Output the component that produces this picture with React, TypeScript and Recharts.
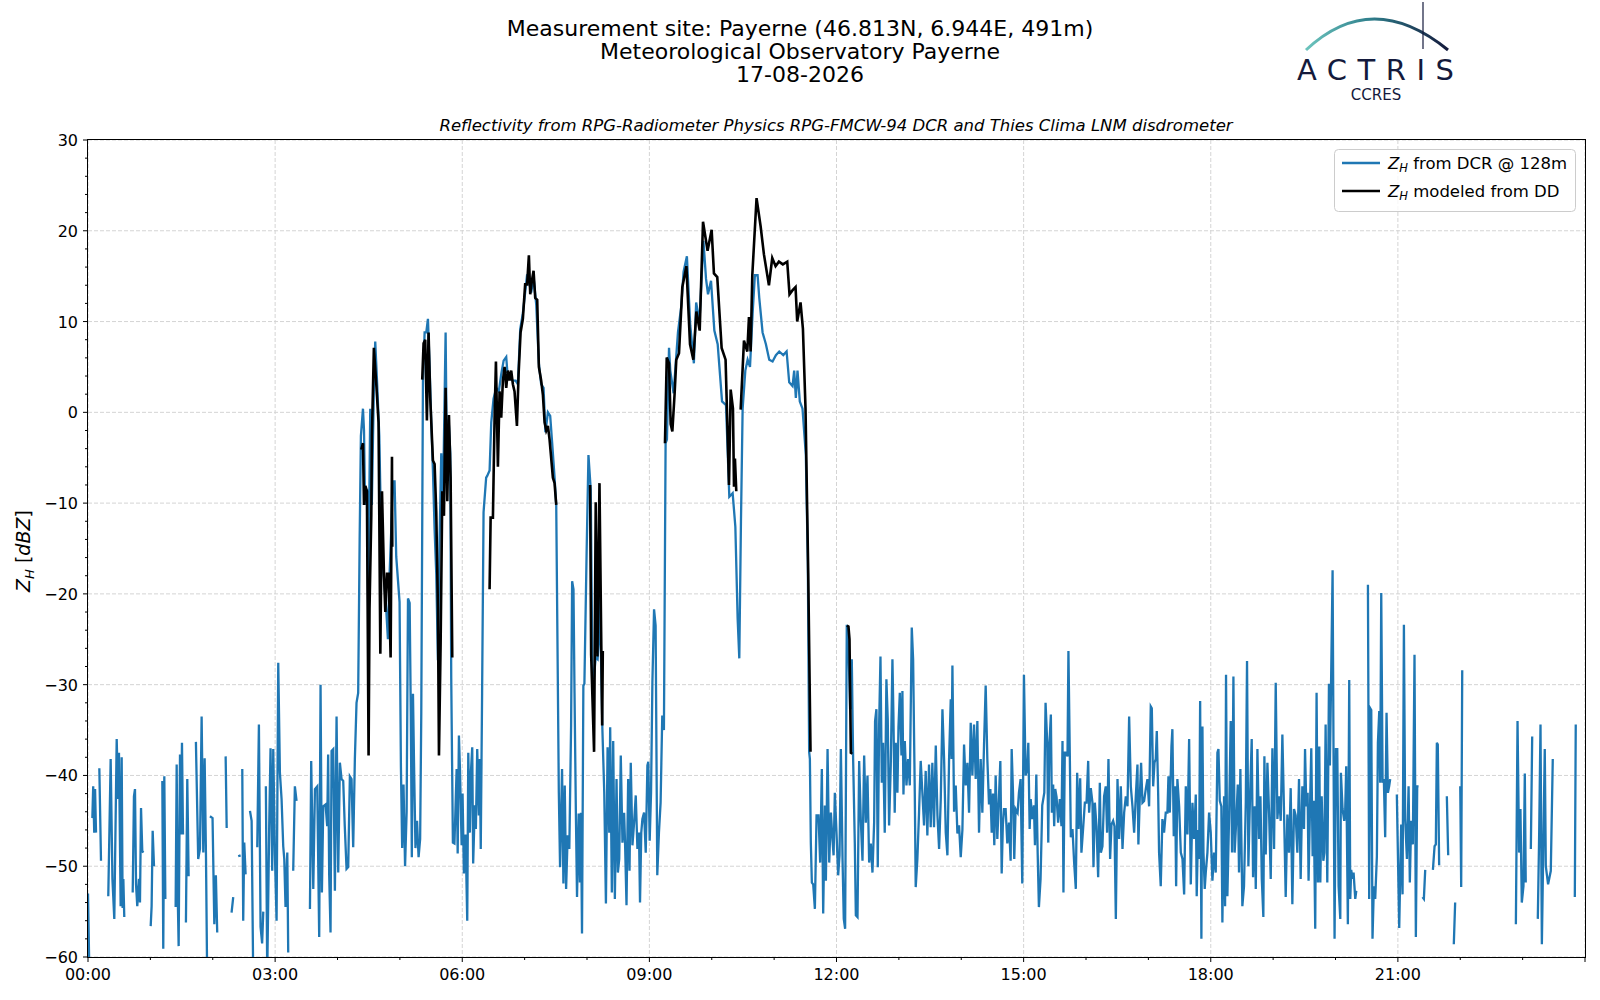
import React from 'react';
import { LineChart, Line, XAxis, YAxis, CartesianGrid } from 'recharts';

type Pt = [number, number | null];

// minutes after midnight, Z_H in dBZ (null = no data)
const dcrNight: Pt[] = [
  [0, -53], [1.5, -63], [3, null], [4.2, -44.7], [5, -41.2], [6, -46.3], [6.8, -41.5], [7.7, -46.3], [9, null],
  [10.9, -39.2], [12.5, -49.4], [14, null], [19.5, -53.3], [21.8, -38.2], [23.5, -51.4], [25.3, -55.8], [27.6, -36],
  [29, -42.6], [29.8, -37.5], [31.4, -54.4], [32.4, -38], [33.3, -54.6], [34, -51.4], [34.9, -55.6], [36, null],
  [43, -52.9], [44.2, -42.3], [45.2, -41.5], [46.2, -52], [47.4, -54.4], [49, -51.4], [50, -54], [51, -43.6],
  [52.2, -48.3], [53.2, -48.5], [55, null], [60.3, -56.6], [61.2, -54.4], [62.2, -46.1], [63.5, -50], [65, null],
  [71.5, -40.6], [72.4, -59.1], [73.4, -40.1], [74.4, -53.6], [75.5, null], [84.3, -54.5], [85.3, -38.8],
  [86.2, -52.5], [87.2, -58.8], [88.5, -37.7], [89.4, -46.5], [90.4, -36.4], [91.4, -46.5], [92.5, null],
  [94.2, -56.2], [95.5, -40.4], [96.8, -51.1], [98, null], [103.8, -36.3], [106, -49.2], [107.7, -48.1],
  [109.3, -33.5], [110.9, -48.5], [112.2, -38.1], [113.5, -49], [114.7, -63], [116, null], [117.3, -44.5],
  [119.8, -44.7], [121.5, -56.4], [123, -51], [124.3, -57.3], [125.5, null], [132.4, -37.9], [133.4, -45.8],
  [134.5, null], [138.1, -55.1], [139.7, -53.4], [141, null], [144.5, -48.9], [146.8, -48.8], [147.5, null],
  [148.4, -39.3], [149.3, -56], [150.3, -47.4], [151.6, -50.9], [153, null], [155.8, -43.9], [157.4, -45],
  [159, -63], [160.5, null], [162.8, -47.9], [164.4, -34.4], [166, -56.7], [167.5, -58.5], [168.6, -55],
  [169.5, null], [171.1, -41.2], [172.4, -62], [174.3, -45.6], [175.6, -37], [177.2, -50.5], [178.2, -37.1],
  [179.8, -48.7], [181.4, -56], [183, -27.6], [184.6, -39.7], [186.2, -42.6], [187.8, -47.8], [188.8, -49.2],
  [190, -54.5], [191.7, -48.5], [192.6, -59.5], [194, null], [197.4, -50.5], [199, -41.2], [200.6, -42.8],
  [202, null], [213.5, -54.7], [214.7, -38.4], [216.7, -52.5], [218.3, -41.5], [220.5, -41.2], [222.4, -57.8],
  [223.7, -30], [225, -52.9], [226.3, -43.4], [228.5, -43.2], [230.1, -45.6], [231, -37.7], [232, -50.9],
  [233.3, -57.3], [234.3, -37.3], [235.9, -37.1], [237.5, -52.7], [239.1, -33.5], [240.7, -50.7], [242.3, -38.6],
  [243.9, -40.4], [245.5, -40.6], [247, -45.6], [248.7, -50.3], [250.3, -50.1], [251.9, -40.1], [253.5, -40.4],
  [255.1, -47.9], [256.7, -38.2], [258.3, -32], [259.9, -30.9],
];

const dcrMorning: Pt[] = [
  [261.3, -14], [262.5, -2.6], [264.5, 0.4], [265.5, -2], [266.5, -10.2], [268.5, -8.5], [269.5, -21.6],
  [271.5, 0.4], [273, -10.2], [275, 2.7], [276.3, 7.8], [278.2, 3], [280.2, -2.6], [282.1, -14], [284.4, -17.8],
  [286.8, -21.6], [288.5, -25], [290.1, -17.8], [291.7, -13], [293.3, -7.6], [294.9, -7.6], [296.5, -15.9],
  [299.7, -20.9], [301, -39], [302.2, -48], [303.5, -41], [305, -50], [306.5, -44], [307.8, -20.5], [309.4, -21],
  [310.5, -33], [311.5, -49], [312.6, -31], [313.8, -40], [315, -48], [316.5, -45], [318, -49], [319.5, -47],
  [320.6, -33], [322.2, 3.5], [323.8, 8.8], [325.4, 8.8], [327, 10.3], [328.6, 5], [330.2, -1.1], [331.8, -6.4],
  [333.4, -12.9], [335, -17.8], [336.6, -27.3], [338.2, -14], [339.8, -4.5], [341.4, -10.2], [344, 8.8],
  [345.3, -6.4], [346.9, -0.8], [348.5, -4.5], [349.4, -29.2], [351, -47.4], [352.5, -47.5], [354.6, -39.3],
  [355.6, -48.6], [356.8, -35.6], [357.8, -39.3], [359.4, -47.7], [360.3, -42], [361.6, -50.8], [363.2, -46.5],
  [364.8, -56], [365.8, -37.5], [367.3, -46.3], [368.3, -39.7], [369.6, -36.9], [370.5, -49.7], [372.1, -43.3],
  [373.1, -45.9], [374.4, -37.1], [376, -44.4], [376.9, -38.2], [377.8, -48.1], [379.1, -30.9], [380.5, -11],
  [383, -7.2], [384, -7], [386.3, -6.4], [387.9, -1.1], [390.1, 1.5], [392.7, 2.7], [395.2, 2.3], [397.5, 4.2],
  [399.8, 5.7], [402.3, 6.1], [403.9, 3.7], [406.1, 3.7], [408.7, 3.5], [411.3, 3.5], [413.5, 3.1], [415.8, 9.2],
  [418.3, 10.9], [420.5, 13.2], [422.4, 15.2], [424.1, 14.5], [426.3, 13.2], [428.6, 14.9], [431.2, 11.8],
  [433.7, 5.4], [435.9, 3.1], [438.2, 2.7], [440, -2.2], [442.4, 0], [444.6, -0.4], [446.5, -3.4], [448.8, -7.2],
  [450.4, -10.2], [451.9, -29.2], [452.9, -41.9], [454.1, -50.1], [456, -39.3], [457.3, -51.9], [458.6, -41.1],
  [459.9, -52.5], [461.4, -46.6], [463, -48.1], [464.7, -34.5], [465.7, -18.6], [467, -19.5], [468, -30.9],
  [469.3, -44.1], [470.4, -53.4], [472, -44.2], [473.2, -51.8], [474.2, -44.1], [475.2, -57.4], [476.5, -30.1],
  [477.5, -29.9], [479.7, -15], [481.4, -4.7], [483.6, -8.5], [485.2, -29], [486.5, -29.4], [488.4, -27],
  [490.2, -27.2], [491.3, -25], [492.3, -20.2], [493.5, -27], [494.8, -34.9], [496.6, -41.9], [498.2, -54.1],
  [499.8, -36.9], [501.4, -46.3], [502.3, -34.7], [503.9, -52.9], [505.2, -36.2], [506.8, -53.6], [508.4, -40.4],
  [509.7, -50.7], [511, -49.2], [512.5, -37.8], [514.1, -47.4], [515.7, -44.1], [516.6, -47.4], [518, -54.3],
  [519.6, -40.4], [520.9, -50.5], [522.1, -38.6], [523.7, -47.7], [525.3, -45.2], [526.9, -42.2], [528.5, -48.1],
  [530, -46.3], [531, -54], [532.2, -46.3], [533.3, -44.8], [534.9, -44.1], [536.5, -48.5], [538.1, -38.9],
  [539, -38.5], [540.3, -47.2], [541.6, -41.9], [542.9, -29.8], [544.5, -21.7], [546, -23.5], [547.6, -51],
  [549.2, -46.3], [550.8, -43], [552.4, -33.4], [554, -35],
];

const dcrMidday: Pt[] = [
  [555.6, -3.4], [556.9, -3], [558.9, 7.1], [560.1, 4.6], [563.3, 2.1], [567.5, 8.8], [570.7, 11.7], [572.9, 15.5],
  [576.1, 17.2], [579.3, 9.6], [582.8, 5.4], [585, 12.1], [588.2, 10], [592, 18.9], [594.5, 14.7], [596.4, 13],
  [599.3, 14.5], [602.5, 9], [605.7, 7.5], [609.9, 1.2], [613.7, 0.8], [616.9, -9.3], [620.1, -8.9], [622.7, -12.6],
  [624.9, -22.7], [626.5, -27.1], [628.1, -12], [629.7, 0.4], [632.3, 4.6], [634.5, 5.8], [636.8, 5], [639.3, 10.9],
  [641.5, 15.1], [644.1, 15.1], [645.7, 12.6], [648.9, 8.8], [652.1, 7.5], [655.3, 5.8], [658.5, 5.6], [661.7, 6.3],
  [664.9, 6.7], [668.8, 6.3], [672, 6.7], [674.5, 3.3], [677.7, 2.9], [679.3, 4.6], [680.9, 1.6], [682.5, 4.6],
  [684.7, 1.2], [687.3, 0.4], [690.5, -4.7], [692.4, -16.4], [693.7, -37.4], [694.4, -38.2], [695.3, -47.4],
  [696.3, -51.8], [697.6, -52], [699.2, -54.7], [700.8, -44.4], [702.7, -44.4], [704.3, -49.6], [705.9, -39.3],
  [707.2, -55.2], [708.8, -43.3], [709.8, -51.6], [711.4, -37.1], [713, -49.6], [714.6, -44.1], [716.2, -47.2],
  [717.2, -48.8], [718.4, -41.9], [720, -46.3], [721.6, -51], [722.9, -48.8], [724.2, -37.1], [725.8, -49.2],
  [727, -55.8], [728.3, -56.9],
];

const dcrAfternoon: Pt[] = [
  [729.9, -23.4], [731.5, -25.8], [733.1, -32.7], [734.7, -27.2], [736, -38.2], [737.6, -47.4], [738.6, -55.4],
  [740.2, -55.6], [741.8, -38.4], [743.4, -45], [745, -49.4], [746.6, -37.8], [748.2, -45.2], [749.8, -40],
  [751.4, -49.6], [753, -47.5], [754.6, -50.7], [756.2, -45.2], [757.1, -34], [758.4, -32.7], [759.7, -50.1],
  [761, -34.5], [762.3, -26.9], [763.6, -40.8], [764.8, -36.4], [766.4, -46.3], [768, -29.4], [769.3, -33.8],
  [770.6, -45.5], [772.2, -38.9], [773.8, -27.2], [774.7, -33], [776, -44.1], [777, -36.4], [778.6, -41.9],
  [779.6, -34.7], [780.9, -30.9], [782.5, -37.8], [783.4, -30.7], [784.4, -42.1], [785.7, -36.2], [787.3, -41.1],
  [788.9, -38.2], [790.5, -41.1], [792.4, -23.7], [793.7, -27.2], [795.3, -41.9], [796.2, -52.3], [797.8, -49.2],
  [799.4, -44.1], [801, -38.4], [802.6, -41.9], [804.2, -45.5], [805.8, -39.5], [807.4, -46.6], [809, -38.8],
  [810.6, -45.7], [812.2, -38.6], [813.8, -45.7], [815.5, -36.7], [817.1, -44.4], [818.7, -48.1], [820.3, -42.6],
  [821.9, -32.7], [823.5, -38.2], [825.1, -46.3], [826.7, -48.8], [828.3, -38.2], [829.9, -31.6], [830.7, -38.2],
  [831.5, -27.9], [833.1, -44], [834.7, -41.1], [836.3, -46.4], [837.9, -45.5], [839.5, -49], [841.1, -46],
  [842.7, -36.6], [844.3, -41.1], [845.9, -38.6], [847.5, -44.1], [849.1, -34.2], [850.7, -40], [852.3, -34.4],
  [853.9, -40.4], [855.5, -34], [857.1, -46.3], [858.7, -38.2], [860.3, -44.1], [861.9, -36.7], [863.5, -30.1],
  [865.1, -38.2], [866.7, -43.2], [868, -41.5], [869.3, -46.3], [870.5, -42], [871.8, -47.7], [873.1, -40],
  [874.7, -47], [876.3, -42.3], [877.6, -38.4], [878.9, -50.8], [880, -45.5], [881.1, -43.7], [882.7, -43.7],
  [884.3, -47.5], [885.9, -45.2], [887.5, -49.4], [888.5, -37.1], [889.8, -41.9], [891, -49.2], [892.3, -43.7],
  [894.2, -44.1], [895.5, -41.9], [897.1, -40.4], [898.7, -51.9], [900.3, -28.9], [901.9, -40], [903.5, -39.3],
  [904.5, -36.4], [905.8, -45.9], [906.8, -42.6], [908.3, -44.8], [909.9, -43.3], [910.9, -47.7], [912.2, -39.9],
  [913.5, -48.5], [914.7, -54.5], [916.3, -51.4], [917.9, -43.3], [919.9, -41.9], [921.1, -32], [922.7, -36.4],
  [923.7, -47.4], [924.6, -37.1], [926.2, -33.3], [927.2, -44.1], [928.4, -41], [929.4, -45.6], [930.4, -41.5],
  [931.7, -42.4], [933.2, -45.2], [934.8, -42.6], [936.4, -45.6], [937.4, -36.2], [938.3, -52.9], [939.6, -37.5],
  [941.2, -37.5], [942.2, -37.9], [943.1, -26.3], [944.4, -37.5], [945.4, -46.8], [947, -45.9], [948.6, -49.6],
  [950.2, -52.5], [951.5, -39.7], [952.8, -45.9], [954.4, -40.3], [955.6, -48.5], [957.2, -45.9], [958.9, -43],
  [960.5, -43], [962.1, -38.4], [963, -44.1], [964.6, -41.4], [966.2, -43], [967.2, -50.1], [968.5, -43],
  [970.1, -45.6], [971.7, -51.2], [973.3, -40.8], [974.3, -48.5], [975.8, -47.8], [977.4, -42.3], [979, -41.2],
  [980.3, -46.3], [981.6, -38.2], [983.2, -49.2], [984.5, -45.4], [986.1, -45], [987.4, -45.6], [988.7, -55.8],
  [990.3, -40.4], [991.9, -47], [993.5, -41.2], [995.1, -48.1], [996.7, -44.1], [998.3, -42.3], [999.9, -43.4],
  [1001.5, -33.5], [1003.1, -41.2], [1004.7, -43.4], [1006.3, -46.3], [1007.9, -42.3], [1009.5, -38.8],
  [1010.4, -47.6], [1011.7, -42.6], [1013, -38.6], [1014.3, -43], [1015.9, -42.8], [1017.5, -41.5], [1019.1, -40.4],
  [1020.7, -43.4], [1022.3, -32.4], [1023.3, -32.6], [1024.6, -41.2], [1025.9, -38.6], [1027.1, -38.2],
  [1028.1, -35.1], [1029.4, -41.9], [1030.3, -48.5], [1031.9, -52.2], [1033.5, -44.8], [1035.1, -46.3],
  [1036.7, -44.1], [1038.3, -44.1], [1039.3, -40.1], [1040.6, -44.1], [1042.2, -36.8], [1043.1, -34.9],
  [1044.4, -46.7], [1045.7, -41.2], [1046.7, -52.2], [1047.9, -40.4], [1049.6, -43.4], [1051.2, -48.5],
  [1052.8, -49.2], [1054.4, -53.1], [1056, -41.2], [1057.6, -46.5], [1059.2, -36], [1060.8, -52], [1062.4, -43],
  [1064, -47], [1065.6, -42.1], [1066.5, -53.3], [1067.8, -46], [1068.8, -49.2], [1069.8, -31.8], [1071, -58],
  [1072, -34.6], [1073, -48.5], [1074.2, -52.5], [1075.2, -50.7], [1076.8, -48.5], [1078.4, -44.1],
];

const dcrEvening: Pt[] = [
  [1080, -46.3], [1081.6, -51.6], [1083.2, -48.5], [1084.8, -50.7], [1086.4, -37.5], [1087.4, -37.1],
  [1088.7, -42.8], [1090.2, -43.4], [1091.2, -56.2], [1092.8, -42.3], [1093.8, -54.4], [1094.7, -28.9],
  [1096, -53.3], [1097.6, -44.8], [1099.2, -34], [1100.5, -48.5], [1101.8, -29.1], [1103, -48.5], [1104.6, -44.8],
  [1106, -41], [1107.2, -50.7], [1108.5, -39.3], [1109.8, -49.6], [1110.4, -54.4], [1112, -52.2], [1113.7, -43],
  [1114.9, -27.4], [1116.2, -50], [1117.8, -42.3], [1119.4, -36], [1120.7, -51.2], [1122.3, -43.4], [1123.3, -52.5],
  [1124.9, -37.1], [1126.5, -47], [1127.8, -42.3], [1129.1, -51.4], [1130.6, -55.6], [1131.6, -37.9],
  [1132.9, -48.7], [1134.5, -38.6], [1136.1, -44.1], [1137.7, -51.4], [1139.3, -37], [1140.9, -48.1],
  [1142.5, -29.8], [1144.1, -44.8], [1145.7, -42.3], [1147.3, -45], [1148.9, -35.5], [1150.5, -44.1],
  [1152.1, -53.4], [1153.7, -44.3], [1155.3, -48.5], [1156.9, -41.4], [1158.5, -54.2], [1160.1, -43.7],
  [1161.7, -44.4], [1163.3, -48.5], [1164.9, -40.4], [1166.5, -51.4], [1168.1, -41.2], [1169.7, -45.9],
  [1170.7, -37.1], [1171.9, -43.4], [1173.2, -41.9], [1174.1, -51.6], [1175.7, -42.3], [1176.7, -37], [1178, -48.9],
  [1179, -42.8], [1180.5, -56.9], [1181.8, -30.9], [1183.1, -51.8], [1184.4, -36.8], [1185.4, -51.8],
  [1186.7, -42.3], [1188.3, -49.4], [1189.3, -48.5], [1190.5, -34.4], [1192.1, -51.8], [1193.7, -29.9],
  [1194.6, -38.9], [1195.6, -31], [1197.2, -17.4], [1198.1, -37.5], [1199.1, -58], [1200.4, -37.1], [1201.7, -37.1],
  [1203, -52.2], [1204.6, -55.8], [1205.2, -39.7], [1206.8, -43.7], [1208.4, -45], [1209.3, -44], [1210.3, -39],
  [1211.9, -56.4], [1213.2, -29.5], [1214.2, -53.6], [1215.1, -50.4], [1216.4, -51.4], [1217.4, -50.7],
  [1219, -53.6], [1220, -52.7], [1221, null],
  [1231.2, -19], [1232.4, -53.6], [1233.4, -32.6], [1234.4, -32.8], [1235.6, -58], [1236.9, -52.2],
  [1238.2, -53.6], [1239.8, -48.9], [1240.8, -36.4], [1242.1, -32.9], [1243, -40.8], [1244, -19.9],
  [1245.3, -40.8], [1246.5, -40.4], [1247.8, -46.8], [1249.1, -33.1], [1250.4, -41.9], [1251.6, -41.2],
  [1252.6, -40.4], [1253.5, null],
  [1259, -42.1], [1261.3, -56.8], [1263.2, -45.4], [1264.5, -53.1], [1265.8, -23.4], [1267, -44.8],
  [1268.7, -49.2], [1270.3, -41.2], [1271.5, -51.8], [1272.8, -45], [1274.4, -47.6], [1276, -26.7],
  [1277.3, -57.8], [1278.6, -41.2], [1279.9, -41.2], [1281, null],
  [1283.7, -53.4], [1285, -53.6], [1286.3, -50.4], [1287.5, null],
  [1293.7, -50.4], [1295.3, -47.8], [1296.5, -47.6], [1297.5, -36.4], [1298.4, -36.6], [1299.7, -49.9], [1301, null],
  [1307.1, -42.3], [1308.4, -48.8], [1309.5, null], [1313.8, -58.6], [1315.1, -54], [1316.5, null],
  [1320, -41.2], [1320.9, -52.3], [1321.9, -28.4], [1323, null],
  [1373.5, -56.4], [1375.1, -34], [1376.6, -48.5], [1377.9, -43.7], [1379.2, -54], [1380.8, -52.2],
  [1382.1, -39.8], [1383, -51.8], [1384.5, null], [1387.9, -48.1], [1389.2, -35.7], [1390.5, null],
  [1394.6, -55.8], [1395.9, -46.5], [1397.2, -34.4], [1398.5, -58.6], [1400, -47], [1401.3, -37.1],
  [1402.3, -50], [1404.5, -52], [1407.1, -50.5], [1409, -38.2], [1410, null],
  [1430.2, -53.4], [1431.1, -34.4],
];

// Z_H modelled from disdrometer, one array per rain spell
const ddSpell1: Pt[] = [
  [262.9, -4.1], [264.5, -3.4], [265.5, -10.2], [266.8, -8.1], [268.3, -8.7], [269.9, -37.8], [270.8, -21.6],
  [272.5, -11.4], [273.1, -2.6], [275, 7.1], [277.3, 3.1], [279.5, -1.1], [281.2, -26.6], [282.8, -8.7],
  [284.7, -17.8], [286, -22], [287.6, -17.8], [289.2, -17.8], [291.1, -27], [292.4, -4.9], [292.7, -14.8],
];
const ddSpell2: Pt[] = [
  [321.5, 3.6], [322.8, 7.6], [324.4, 8], [326, -0.9], [327.6, 8.8], [329.2, 1.6], [331.8, -5.3], [333.4, -5.7],
  [335, -11], [336.6, -21.6], [337.6, -37.8], [339.2, -25.4], [340.8, -8.7], [342.4, -11.4], [344, 2.7],
  [345.6, -9.8], [347.2, -0.3], [348.8, -7.2], [350.4, -27],
];
const ddSpell3: Pt[] = [
  [386.3, -19.5], [387.3, -11.6], [389.5, -11.6], [391.1, -0.6], [392.4, 5.6], [394.3, -6], [395.9, 2.3],
  [397.5, -0.6], [399.1, 3.5], [400.7, 5], [402.3, 2.7], [403.9, 4.6], [405.5, 3.5], [407.1, 4.6], [408.7, 3.1],
  [410.3, 2.3], [412.6, -1.5], [414.2, 4.2], [416.1, 8.8], [418.3, 10.3], [420.5, 14.1], [422.4, 14.1],
  [424.1, 17.3], [425.4, 13], [427, 14.5], [428.6, 15.6], [430.2, 12.6], [432.1, 12.4], [433.7, 5], [435.9, 3.5],
  [437.6, 1.9], [439.2, -1.1], [440.8, -2], [442.4, -1.5], [444, -3], [447.2, -7.2], [448.8, -7.8], [450.4, -10.2],
];
const ddSpell4: Pt[] = [
  [483, -8], [484, -26.7], [486.8, -37.4], [488.4, -9.9], [490, -26.9], [492, -7.8], [494.6, -34.5], [495.2, -26.3],
];
const ddSpell5: Pt[] = [
  [555, -3.4], [556.7, 6.05], [558.9, 5.4], [560.5, -1.3], [562.1, -2.1], [564.3, 2.1], [565.9, 5.8], [568.5, 6.5],
  [571.7, 13.8], [575.6, 16.1], [579.1, 7.5], [582.3, 5.8], [585.2, 11.1], [588.4, 9], [591.6, 21], [596, 17.8],
  [599.9, 20.1], [602.1, 15.3], [605.3, 14.9], [609.5, 7.1], [613.3, 5.8], [616.6, -8], [618.2, 2.5], [620.4, 0.4],
  [621.4, -8.2], [622.3, -5.1], [623.6, -8.7], [625, null], [627.8, 0.3], [631, 7.9], [634.2, 6.7], [635.8, 10.5],
  [637.4, 6.7], [639, 15.1], [643.1, 23.6], [647, 20.5], [650.2, 17.4], [655, 14], [658.2, 17], [661.4, 16.1],
  [664.6, 16.6], [668.4, 16.3], [672.6, 16.6], [674.8, 13], [677.4, 13.4], [680.6, 13.8], [682.2, 10],
  [685.4, 12.1], [687.7, 9.2], [690.2, 0.4], [692.8, -17.7], [695, -37.4],
];
const ddSpell6: Pt[] = [
  [730, -23.5], [731.5, -23.6], [732.5, -25], [733.8, -37.5], [735.3, -37.6],
];

const yMajorTicks = [-60, -50, -40, -30, -20, -10, 0, 10, 20, 30];
const xMajorTicks = [0, 180, 360, 540, 720, 900, 1080, 1260, 1440];
const xTickLabels = ['00:00', '03:00', '06:00', '09:00', '12:00', '15:00', '18:00', '21:00', ''];
const yMinorTicks: number[] = [];
for (let v = -60; v <= 30; v += 2) yMinorTicks.push(v);
const xMinorTicks: number[] = [];
for (let m = 0; m <= 1440; m += 60) xMinorTicks.push(m);

const toRows = (pts: Pt[]) => pts.map(([t, v]) => ({ t, v }));
const dcrData = toRows([...dcrNight, ...dcrMorning, ...dcrMidday, ...dcrAfternoon, ...dcrEvening]);
const ddSpells = [ddSpell1, ddSpell2, ddSpell3, ddSpell4, ddSpell5, ddSpell6];
const ddData = toRows(
  ddSpells.flatMap((s, i) => (i < ddSpells.length - 1 ? [...s, [s[s.length - 1][0] + 0.5, null] as Pt] : s))
);

const FONT = 'DejaVu Sans';
const PLOT_LEFT = 88;
const PLOT_TOP = 140;
const PLOT_RIGHT = 1585;
const PLOT_BOTTOM = 957;
const Y_AXIS_W = 60;
const X_AXIS_H = 40;

const fmtY = (v: number) => (v < 0 ? `\u2212${Math.abs(v)}` : `${v}`);

const YTick = (props: any) => {
  const { y, payload } = props;
  const major = yMajorTicks.includes(payload.value);
  return (
    <g>
      <line x1={PLOT_LEFT} x2={PLOT_LEFT - (major ? 5 : 3)} y1={y} y2={y} stroke="#000" strokeWidth={1} />
      {major && (
        <text x={PLOT_LEFT - 10} y={y + 6} textAnchor="end" fontSize={16} fontFamily={FONT} fill="#000">
          {fmtY(payload.value)}
        </text>
      )}
    </g>
  );
};

const XTick = (props: any) => {
  const { x, payload } = props;
  const idx = xMajorTicks.indexOf(payload.value);
  const major = idx >= 0;
  return (
    <g>
      <line x1={x} x2={x} y1={PLOT_BOTTOM} y2={PLOT_BOTTOM + (major ? 5 : 3)} stroke="#000" strokeWidth={1} />
      {major && xTickLabels[idx] && (
        <text x={x} y={PLOT_BOTTOM + 23} textAnchor="middle" fontSize={16} fontFamily={FONT} fill="#000">
          {xTickLabels[idx]}
        </text>
      )}
    </g>
  );
};

const App: React.FC = () => {
  return (
    <div style={{ position: 'absolute', left: 0, top: 0, width: 1600, height: 1000, background: '#fff', fontFamily: FONT }}>
      <LineChart
        width={1600}
        height={1000}
        margin={{
          top: PLOT_TOP,
          right: 1600 - PLOT_RIGHT,
          bottom: 1000 - PLOT_BOTTOM - X_AXIS_H,
          left: PLOT_LEFT - Y_AXIS_W,
        }}
      >
        <CartesianGrid
          stroke="#d4d4d4"
          strokeDasharray="4 2"
          strokeWidth={1}
          horizontalValues={yMajorTicks}
          verticalValues={xMajorTicks}
        />
        <XAxis
          type="number"
          dataKey="t"
          domain={[0, 1440]}
          allowDataOverflow
          ticks={xMinorTicks}
          interval={0}
          height={X_AXIS_H}
          axisLine={false}
          tickLine={false}
          tick={(p: any) => <XTick {...p} />}
        />
        <YAxis
          type="number"
          domain={[-60, 30]}
          allowDataOverflow
          ticks={yMinorTicks}
          interval={0}
          width={Y_AXIS_W}
          axisLine={false}
          tickLine={false}
          tick={(p: any) => <YTick {...p} />}
        />
        <Line
          data={dcrData}
          dataKey="v"
          type="linear"
          stroke="#1f77b4"
          strokeWidth={2.3}
          dot={false}
          activeDot={false}
          isAnimationActive={false}
          connectNulls={false}
        />
        <Line
          data={ddData}
          dataKey="v"
          type="linear"
          stroke="#000"
          strokeWidth={2.6}
          dot={false}
          activeDot={false}
          isAnimationActive={false}
          connectNulls={false}
        />
      </LineChart>

      {/* axes frame */}
      <div
        style={{
          position: 'absolute',
          left: PLOT_LEFT - 1,
          top: PLOT_TOP - 1,
          width: PLOT_RIGHT - PLOT_LEFT + 2,
          height: PLOT_BOTTOM - PLOT_TOP + 2,
          border: '1px solid #000',
          boxSizing: 'border-box',
          pointerEvents: 'none',
        }}
      />

      <svg width={1600} height={1000} style={{ position: 'absolute', left: 0, top: 0, pointerEvents: 'none' }}>
        <defs>
          <linearGradient id="arcGrad" x1="0" y1="0" x2="1" y2="0">
            <stop offset="0%" stopColor="#6cc4bd" />
            <stop offset="45%" stopColor="#2f7f8c" />
            <stop offset="100%" stopColor="#141a3c" />
          </linearGradient>
        </defs>

        {/* titles */}
        <g fontFamily={FONT} fill="#000" textAnchor="middle">
          <text x={800} y={36} fontSize={22}>Measurement site: Payerne (46.813N, 6.944E, 491m)</text>
          <text x={800} y={59} fontSize={22}>Meteorological Observatory Payerne</text>
          <text x={800} y={82} fontSize={22}>17-08-2026</text>
          <text x={836} y={131} fontSize={16.5} fontStyle="italic">
            Reflectivity from RPG-Radiometer Physics RPG-FMCW-94 DCR and Thies Clima LNM disdrometer
          </text>
        </g>

        {/* logo */}
        <path d="M1306 50 Q1372 -12 1448 50" fill="none" stroke="url(#arcGrad)" strokeWidth={3} />
        <line x1={1423} y1={2} x2={1423} y2={49} stroke="#141a3c" strokeWidth={1.2} />
        <text x={1297} y={80} fontSize={29} fontFamily={FONT} fill="#141a3c" textLength={157} lengthAdjust="spacing">
          ACTRIS
        </text>
        <text x={1376} y={100} fontSize={15} fontFamily={FONT} fill="#141a3c" textAnchor="middle">
          CCRES
        </text>

        {/* y label */}
        <text transform="translate(30 551) rotate(-90)" textAnchor="middle" fontSize={19} fontFamily={FONT} fill="#000">
          <tspan fontStyle="italic">Z</tspan>
          <tspan fontStyle="italic" fontSize={13} dy={4}>H</tspan>
          <tspan dy={-4}> [</tspan>
          <tspan fontStyle="italic">dBZ</tspan>
          <tspan>]</tspan>
        </text>

        {/* legend */}
        <rect x={1334.5} y={149.5} width={241} height={62} rx={4} fill="#fff" fillOpacity={0.8} stroke="#cccccc" />
        <line x1={1342} x2={1380} y1={163} y2={163} stroke="#1f77b4" strokeWidth={2.3} />
        <line x1={1342} x2={1380} y1={191} y2={191} stroke="#000" strokeWidth={2.6} />
        <text x={1388} y={169} fontSize={16.5} fontFamily={FONT} fill="#000">
          <tspan fontStyle="italic">Z</tspan>
          <tspan fontStyle="italic" fontSize={11.5} dy={3}>H</tspan>
          <tspan dy={-3}> from DCR @ 128m</tspan>
        </text>
        <text x={1388} y={197} fontSize={16.5} fontFamily={FONT} fill="#000">
          <tspan fontStyle="italic">Z</tspan>
          <tspan fontStyle="italic" fontSize={11.5} dy={3}>H</tspan>
          <tspan dy={-3}> modeled from DD</tspan>
        </text>
      </svg>
    </div>
  );
};

export default App;
